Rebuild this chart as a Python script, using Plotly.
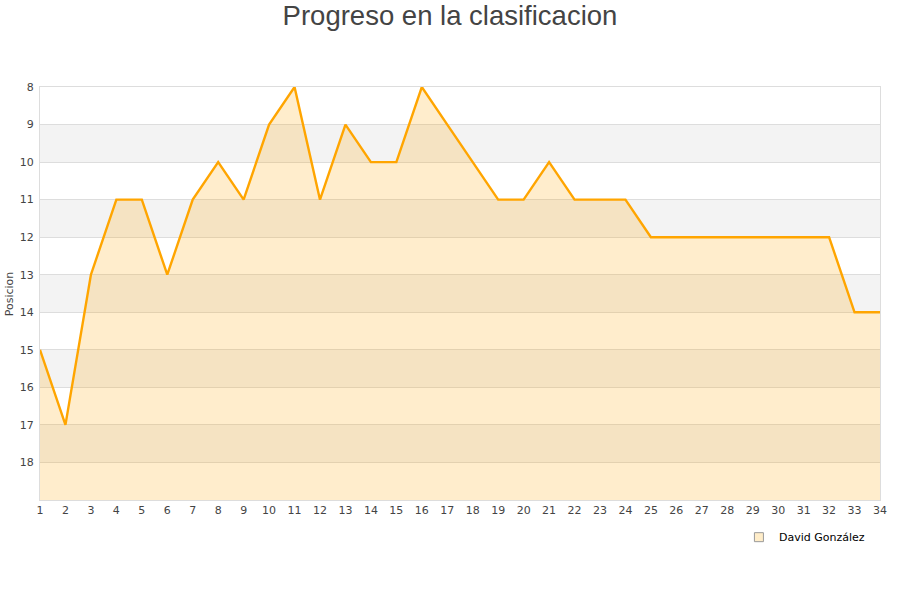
import plotly.graph_objects as go

jornadas = list(range(1, 35))
posiciones = [15, 17, 13, 11, 11, 13, 11, 10, 11, 9, 8, 11, 9, 10, 10, 8, 9, 10, 11, 11,
              10, 11, 11, 11, 12, 12, 12, 12, 12, 12, 12, 12, 14, 14]
y_ticks = list(range(8, 19))
band_starts = [9, 11, 13, 15, 17]
serie = "David González"

fig = go.Figure()

# baseline for fill
fig.add_trace(go.Scatter(x=jornadas, y=[19] * len(jornadas), mode="lines",
                         line=dict(width=0), showlegend=False, hoverinfo="skip"))
fig.add_trace(go.Scatter(x=jornadas, y=posiciones, mode="lines", fill="tonexty",
                         fillcolor="rgba(255,165,0,0.2)",
                         line=dict(color="#ffa500", width=2.4), showlegend=False))
fig.add_trace(go.Scatter(x=[None], y=[None], mode="markers", name=serie,
                         marker=dict(symbol="square", size=9, color="#ffedc9",
                                     line=dict(color="#999999", width=1))))

for b in band_starts:
    fig.add_shape(type="rect", xref="paper", yref="y", x0=0, x1=1, y0=b, y1=b + 1,
                  fillcolor="#f3f3f3", line=dict(width=0), layer="below")

fig.add_annotation(text="Posicion", xref="paper", yref="paper", x=-0.036, y=0.5,
                   xanchor="center", yanchor="middle", textangle=-90, showarrow=False,
                   font=dict(family="DejaVu Sans", size=11, color="#444444"))

fig.update_layout(
    width=900, height=600,
    margin=dict(l=40, r=20, t=87, b=100),
    paper_bgcolor="white", plot_bgcolor="white",
    title=dict(text="Progreso en la clasificacion", x=0.5, xanchor="center", y=0.975, yanchor="middle",
               font=dict(family="Liberation Sans, Arial", size=27.5, color="#444444")),
    font=dict(family="DejaVu Sans", size=11, color="#444444"),
    showlegend=True,
    legend=dict(x=0.988, xanchor="right", y=-0.09, yanchor="middle",
                font=dict(family="DejaVu Sans", size=11, color="#000000"),
                bgcolor="rgba(0,0,0,0)"),
)
fig.update_xaxes(range=[1, 34], tickvals=jornadas, showgrid=False, zeroline=False,
                 showline=True, linecolor="#dddddd", mirror=True, ticks="",
                 tickfont=dict(size=11, color="#444444"), automargin=False)
fig.update_yaxes(range=[19, 8], tickvals=y_ticks, showgrid=True, gridcolor="#dddddd",
                 zeroline=False, showline=True, linecolor="#dddddd", mirror=True, ticks="",
                 ticklabelstandoff=3,
                 tickfont=dict(size=11, color="#444444"), automargin=False)

fig.write_html("out.html", config={"displayModeBar": False},
               post_script="document.body.style.margin='0';document.body.style.overflow='hidden';")
